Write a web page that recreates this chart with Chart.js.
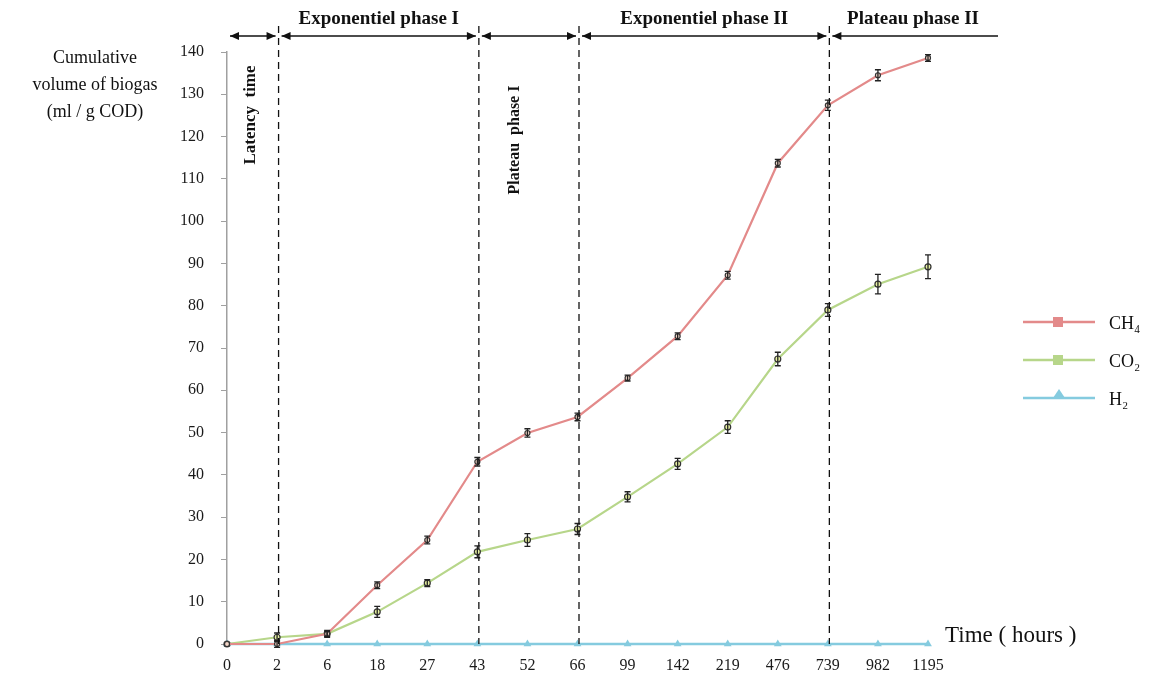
<!DOCTYPE html>
<html>
<head>
<meta charset="utf-8">
<script src="https://cdn.jsdelivr.net/npm/chart.js@4.4.0/dist/chart.umd.min.js"></script>
<style>
  html, body { margin: 0; padding: 0; background: #fff; overflow: hidden; }
</style>
</head>
<body>
<canvas id="biogasChart" width="1150" height="678"></canvas>
<script>
// time points (hours)
var hours = ["0", "2", "6", "18", "27", "43", "52", "66", "99", "142", "219", "476", "739", "982", "1195"];

// cumulative volume (ml / g COD)
var ch4 = [0, 0, 2.4, 13.9, 24.6, 43.1, 49.9, 53.7, 62.9, 72.8, 87.2, 113.7, 127.4, 134.5, 138.6];
var co2 = [0, 1.6, 2.4, 7.6, 14.4, 21.8, 24.6, 27.2, 34.8, 42.6, 51.3, 67.4, 79.0, 85.1, 89.2];
var h2  = [0, 0, 0, 0, 0, 0, 0, 0, 0, 0, 0, 0, 0, 0, 0];

// error bars (same units)
var ch4Err = [0, 0.8, 0.6, 0.8, 0.9, 1.0, 1.0, 0.9, 0.7, 0.8, 0.9, 0.9, 1.2, 1.3, 0.8];
var co2Err = [0, 1.0, 0.8, 1.3, 0.8, 1.4, 1.5, 1.3, 1.2, 1.3, 1.5, 1.6, 1.5, 2.3, 2.8];

var yTicks = [0, 10, 20, 30, 40, 50, 60, 70, 80, 90, 100, 110, 120, 130, 140];

// phase boundaries (index into hours) and labels
var phaseBounds = [1, 5, 7, 12];
var topPhases = ["Exponentiel phase I", "Exponentiel phase II", "Plateau phase II"];

var serif = "'Liberation Serif', 'DejaVu Serif', serif";

function arrowHead(ctx, x, y, dir) {
    ctx.beginPath();
    ctx.moveTo(x, y);
    ctx.lineTo(x - dir * 9, y - 4);
    ctx.lineTo(x - dir * 9, y + 4);
    ctx.closePath();
    ctx.fill();
}

var errorBars = {
    id: 'errorBars',
    afterDatasetsDraw: function(chart) {
        var ctx = chart.ctx;
        var ys = chart.scales.y;
        var xs = chart.scales.x;
        ctx.save();
        ctx.strokeStyle = '#222';
        ctx.lineWidth = 1.3;
        [[ch4, ch4Err], [co2, co2Err]].forEach(function(pair) {
            pair[0].forEach(function(v, i) {
                var e = pair[1][i];
                if (!e) return;
                var x = xs.getPixelForValue(i);
                var top = ys.getPixelForValue(v + e);
                var bot = ys.getPixelForValue(v - e);
                ctx.beginPath();
                ctx.moveTo(x, top); ctx.lineTo(x, bot);
                ctx.moveTo(x - 3, top); ctx.lineTo(x + 3, top);
                ctx.moveTo(x - 3, bot); ctx.lineTo(x + 3, bot);
                ctx.stroke();
            });
        });
        ctx.restore();
    }
};

var phases = {
    id: 'phases',
    afterDraw: function(chart) {
        var ctx = chart.ctx;
        var xs = chart.scales.x;
        var area = chart.chartArea;
        var bx = phaseBounds.map(function(i) { return xs.getPixelForValue(i) + 1.5; });
        var arrowY = 36;
        ctx.save();

        // dashed boundaries
        ctx.strokeStyle = '#111';
        ctx.lineWidth = 1.3;
        ctx.setLineDash([7, 5]);
        bx.forEach(function(x) {
            ctx.beginPath();
            ctx.moveTo(x, 26);
            ctx.lineTo(x, area.bottom);
            ctx.stroke();
        });
        ctx.setLineDash([]);

        // double arrows
        var segs = [[area.left, bx[0]], [bx[0], bx[1]], [bx[1], bx[2]], [bx[2], bx[3]]];
        ctx.fillStyle = '#111';
        ctx.lineWidth = 1.5;
        segs.forEach(function(s) {
            var a = s[0] + 3, b = s[1] - 3;
            ctx.beginPath();
            ctx.moveTo(a, arrowY); ctx.lineTo(b, arrowY);
            ctx.stroke();
            arrowHead(ctx, a, arrowY, -1);
            arrowHead(ctx, b, arrowY, 1);
        });
        ctx.beginPath();
        ctx.moveTo(bx[3] + 3, arrowY); ctx.lineTo(998, arrowY);
        ctx.stroke();
        arrowHead(ctx, bx[3] + 3, arrowY, -1);

        // top phase names
        ctx.font = "bold 19px " + serif;
        ctx.textAlign = 'center';
        ctx.textBaseline = 'middle';
        ctx.fillText(topPhases[0], (bx[0] + bx[1]) / 2, 19);
        ctx.fillText(topPhases[1], (bx[2] + bx[3]) / 2, 19);
        ctx.fillText(topPhases[2], 913, 19);

        // rotated phase names
        function vtext(t, x, y) {
            ctx.save();
            ctx.translate(x, y);
            ctx.rotate(-Math.PI / 2);
            ctx.fillText(t, 0, 0);
            ctx.restore();
        }
        ctx.font = "bold 17px " + serif;
        vtext("Latency  time", 251, 115);
        ctx.font = "bold 16px " + serif;
        vtext("Plateau  phase I", 515, 140);

        // y axis title
        ctx.font = "18px " + serif;
        ctx.fillText("Cumulative", 95, 58);
        ctx.fillText("volume of biogas", 95, 85);
        ctx.fillText("(ml / g COD)", 95, 112);

        // x axis title
        ctx.font = "23px " + serif;
        ctx.textAlign = 'left';
        ctx.fillText("Time ( hours )", 945, 636);

        // legend
        var ds = chart.data.datasets;
        var ly = [322, 360, 398];
        ctx.font = "18px " + serif;
        ds.forEach(function(d, i) {
            ctx.strokeStyle = d.borderColor;
            ctx.fillStyle = d.borderColor;
            ctx.lineWidth = 2.5;
            ctx.beginPath();
            ctx.moveTo(1023, ly[i]); ctx.lineTo(1095, ly[i]);
            ctx.stroke();
            if (i < 2) {
                ctx.fillRect(1053, ly[i] - 5, 10, 10);
            } else {
                ctx.beginPath();
                ctx.moveTo(1059, ly[i] - 9);
                ctx.lineTo(1065, ly[i]);
                ctx.lineTo(1053, ly[i]);
                ctx.closePath();
                ctx.fill();
            }
            ctx.fillStyle = '#111';
            ctx.fillText(d.label, 1109, ly[i] + 2);
        });
        ctx.restore();
    }
};

new Chart(document.getElementById('biogasChart'), {
    type: 'line',
    data: {
        labels: hours,
        datasets: [{
            label: 'CH\u2084',
            data: ch4,
            borderColor: '#E38A8A',
            backgroundColor: '#F3D6C8',
            borderWidth: 2.2,
            pointRadius: 2.5,
            pointBorderColor: '#333',
            pointBorderWidth: 1.2,
            tension: 0
        }, {
            label: 'CO\u2082',
            data: co2,
            borderColor: '#B7D68A',
            backgroundColor: '#E6F0A0',
            borderWidth: 2.2,
            pointRadius: 3,
            pointBorderColor: '#333',
            pointBorderWidth: 1.2,
            tension: 0
        }, {
            label: 'H\u2082',
            data: h2,
            borderColor: '#85CBDF',
            backgroundColor: '#85CBDF',
            borderWidth: 2.5,
            pointStyle: 'triangle',
            pointRadius: 4.5,
            pointBorderWidth: 0,
            tension: 0
        }]
    },
    options: {
        responsive: false,
        animation: false,
        clip: false,
        layout: { padding: { top: 52, right: 222, bottom: 0, left: 0 } },
        plugins: {
            legend: { display: false },
            tooltip: { enabled: false }
        },
        scales: {
            x: {
                offset: false,
                grid: { display: false },
                border: { display: false },
                ticks: {
                    color: '#1a1a1a',
                    padding: 4,
                    maxRotation: 0,
                    autoSkip: false,
                    font: { family: serif, size: 16 }
                },
                afterFit: function(s) { s.height = 34; }
            },
            y: {
                min: 0,
                max: 140,
                afterBuildTicks: function(s) {
                    s.ticks = yTicks.map(function(v) { return { value: v }; });
                },
                grid: {
                    drawOnChartArea: false,
                    drawTicks: true,
                    tickLength: 6,
                    color: '#A0A0A0'
                },
                border: { display: true, color: '#A0A0A0', width: 1.5 },
                ticks: {
                    color: '#1a1a1a',
                    padding: 17,
                    font: { family: serif, size: 16 }
                },
                afterFit: function(s) { s.width = 227; }
            }
        }
    },
    plugins: [errorBars, phases]
});
</script>
</body>
</html>
